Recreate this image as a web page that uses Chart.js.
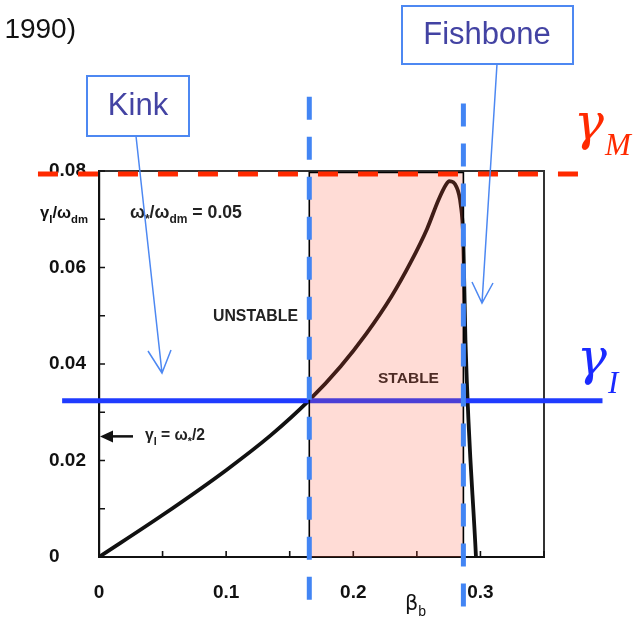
<!DOCTYPE html>
<html>
<head>
<meta charset="utf-8">
<script src="https://cdn.jsdelivr.net/npm/chart.js@4.4.1/dist/chart.umd.min.js"></script>
<style>
  html, body { margin: 0; padding: 0; background: #fff; overflow: hidden; }
  #wrap { position: relative; width: 643px; height: 622px; }
</style>
</head>
<body>
<div id="wrap"><canvas id="c" width="643" height="622"></canvas></div>
<script>
// Fishbone / kink growth rate versus hot-particle beta
const betaB      = [0, 0.05, 0.1, 0.135, 0.165, 0.19, 0.21, 0.23, 0.245, 0.258, 0.267, 0.273, 0.2755, 0.281, 0.2845, 0.2865, 0.2882, 0.2965];
const growthRate = [0, 0.0087, 0.018, 0.0252, 0.0324, 0.0395, 0.0462, 0.054, 0.061, 0.068, 0.074, 0.0772, 0.0779, 0.0768, 0.0730, 0.066, 0.045, 0];

// threshold levels and the stable window in beta
const gammaI = 0.0324;
const gammaM = 0.0794;
const stableBeta = [0.1654, 0.2866];
const stableTop = 0.0797;
const omegaStarRatio = 0.05;             // omega_* / omega_dm
const gammaIKink = omegaStarRatio / 2;   // gamma_I = omega_* / 2

// extents of the overlay guide lines (data units)
const guideXSpan = [-0.029, 0.396];
const mLineXSpan = [-0.048, 0.386];
const leftGuideYSpan = [0.0954, -0.011];
const rightGuideYSpan = [0.0940, -0.011];

// axis ticks
const xTickValues = [0, 0.1, 0.2, 0.3];
const xTickLabels = ['0', '0.1', '0.2', '0.3'];
const yTickValues = [0, 0.02, 0.04, 0.06, 0.08];
const yTickLabels = ['0', '0.02', '0.04', '0.06', '0.08'];

const curvePoints = betaB.map((b, i) => ({ x: b, y: growthRate[i] }));

function labelFor(values, labels, v) {
  for (let i = 0; i < values.length; i++) {
    if (Math.abs(values[i] - v) < 1e-6) return labels[i];
  }
  return '';
}

function fontFor(p, size) {
  const s = p.sub ? size * 0.68 : size;
  return [p.style || '', p.weight || 'bold', s.toFixed(2) + 'px', p.family || '"Liberation Sans"']
    .filter(Boolean).join(' ');
}
function richWidth(ctx, parts, size) {
  let w = 0;
  for (const p of parts) { ctx.font = fontFor(p, size); w += ctx.measureText(p.t).width; }
  return w;
}
// draws a run of text pieces (with subscripts) fitted between x0 and x1
function drawRich(ctx, parts, x0, x1, baseline, size, color) {
  size = size * (x1 - x0) / richWidth(ctx, parts, size);
  let x = x0;
  ctx.fillStyle = color;
  ctx.textAlign = 'left';
  ctx.textBaseline = 'alphabetic';
  for (const p of parts) {
    ctx.font = fontFor(p, size);
    ctx.fillText(p.t, x, baseline + (p.sub ? size * 0.3 : 0));
    x += ctx.measureText(p.t).width;
  }
}

// large italic gamma with a subscript
function drawGamma(ctx, sub, x, y, subX, subY, color) {
  ctx.save();
  ctx.fillStyle = color;
  ctx.textAlign = 'left';
  ctx.textBaseline = 'alphabetic';
  ctx.font = 'italic 50px "DejaVu Serif"';
  ctx.fillText('γ', x, y);
  ctx.font = 'italic 31px "Liberation Serif"';
  ctx.fillText(sub, subX, subY);
  ctx.restore();
}

const underlay = {
  id: 'underlay',
  beforeDatasetsDraw(chart) {
    const { ctx, chartArea: a, scales: { x, y } } = chart;
    ctx.save();
    // top and right frame
    ctx.strokeStyle = '#333';
    ctx.lineWidth = 2;
    ctx.beginPath();
    ctx.moveTo(a.left, a.top); ctx.lineTo(a.right, a.top); ctx.lineTo(a.right, a.bottom);
    ctx.stroke();
    // inward tick marks
    ctx.strokeStyle = '#111';
    ctx.lineWidth = 1.6;
    ctx.beginPath();
    for (const t of y.ticks) {
      const py = y.getPixelForValue(t.value);
      ctx.moveTo(a.left, py); ctx.lineTo(a.left + 6, py);
    }
    for (const t of x.ticks) {
      const px = x.getPixelForValue(t.value);
      ctx.moveTo(px, a.bottom); ctx.lineTo(px, a.bottom - 6);
    }
    ctx.stroke();

    // axis title at the top of the y axis
    drawRich(ctx, [{ t: 'γ' }, { t: 'I', sub: true }, { t: '/ω' }, { t: 'dm', sub: true }], 40, 88, 218, 18, '#111');
    drawRich(ctx, [{ t: 'ω' }, { t: '*', sub: true }, { t: '/ω' }, { t: 'dm', sub: true }, { t: ' = 0.05' }], 130, 242, 218, 14, '#222');
    drawRich(ctx, [{ t: 'UNSTABLE' }], 213, 298, 321, 15, '#222');
    drawRich(ctx, [{ t: 'STABLE' }], 378, 439, 383, 15, '#222');

    // gamma_I = omega_*/2 marker
    const ky = y.getPixelForValue(gammaIKink);
    ctx.strokeStyle = '#111';
    ctx.lineWidth = 2.5;
    ctx.beginPath();
    ctx.moveTo(a.left + 10, ky); ctx.lineTo(a.left + 34, ky);
    ctx.stroke();
    ctx.fillStyle = '#111';
    ctx.beginPath();
    ctx.moveTo(a.left + 1, ky); ctx.lineTo(a.left + 14, ky - 6); ctx.lineTo(a.left + 14, ky + 6);
    ctx.closePath(); ctx.fill();
    drawRich(ctx, [{ t: 'γ' }, { t: 'I', sub: true }, { t: ' = ω' }, { t: '*', sub: true }, { t: '/2' }], 145, 205, 440, 14, '#222');

    // x axis title
    drawRich(ctx, [{ t: 'β', weight: 'normal', family: '"DejaVu Sans"' }, { t: 'b', sub: true, weight: 'normal' }], 405, 426, 610, 20, '#111');
    ctx.restore();
  },
  afterDatasetsDraw(chart) {
    const { ctx } = chart;
    ctx.save();
    // source note
    ctx.fillStyle = '#111';
    ctx.font = '28px "Liberation Sans"';
    ctx.textAlign = 'right';
    ctx.textBaseline = 'alphabetic';
    ctx.fillText('1990)', 76, 38);

    // callout boxes
    const blue = '#4d88f2';
    ctx.strokeStyle = blue;
    ctx.lineWidth = 2;
    ctx.strokeRect(87, 76, 102, 60);
    ctx.strokeRect(402, 6, 171, 58);
    ctx.fillStyle = '#4343a3';
    ctx.font = '31px "Liberation Sans"';
    ctx.textAlign = 'center';
    ctx.textBaseline = 'middle';
    ctx.fillText('Kink', 138, 106);
    ctx.fillText('Fishbone', 487, 35);

    // callout arrows
    ctx.lineWidth = 1.5;
    ctx.beginPath();
    ctx.moveTo(136, 136); ctx.lineTo(162, 373);
    ctx.moveTo(148, 351); ctx.lineTo(162, 373); ctx.lineTo(171, 350);
    ctx.moveTo(497, 64); ctx.lineTo(482, 303);
    ctx.moveTo(472, 282); ctx.lineTo(482, 303); ctx.lineTo(493, 283);
    ctx.stroke();
    ctx.restore();

    // threshold labels
    drawGamma(ctx, 'M', 574, 139, 605, 155, '#ff2a00');
    drawGamma(ctx, 'I', 577, 374, 608, 393, '#1a2aff');
  }
};

const tickFont = { family: '"Liberation Sans"', size: 19, weight: 'bold' };

new Chart(document.getElementById('c').getContext('2d'), {
  type: 'scatter',
  data: {
    datasets: [
      { // gamma_M level
        data: [{ x: mLineXSpan[0], y: gammaM }, { x: mLineXSpan[1], y: gammaM }],
        showLine: true, borderColor: '#ff2a00', borderWidth: 5, borderDash: [20, 20],
        pointRadius: 0, clip: false, order: 0
      },
      { // lower edge of the stable window
        data: [{ x: stableBeta[0], y: leftGuideYSpan[0] }, { x: stableBeta[0], y: leftGuideYSpan[1] }],
        showLine: true, borderColor: '#4285f4', borderWidth: 5, borderDash: [23, 17],
        pointRadius: 0, clip: false, order: 1
      },
      { // upper edge of the stable window
        data: [{ x: stableBeta[1], y: rightGuideYSpan[0] }, { x: stableBeta[1], y: rightGuideYSpan[1] }],
        showLine: true, borderColor: '#4285f4', borderWidth: 5, borderDash: [23, 17],
        pointRadius: 0, clip: false, order: 1
      },
      { // stable window
        data: [
          { x: stableBeta[0], y: 0 }, { x: stableBeta[0], y: stableTop },
          { x: stableBeta[1], y: stableTop }, { x: stableBeta[1], y: 0 }
        ],
        showLine: true, fill: 'origin', backgroundColor: 'rgba(255, 80, 48, 0.2)',
        borderColor: '#000', borderWidth: 1.6, pointRadius: 0, tension: 0, order: 3
      },
      { // gamma_I level
        data: [{ x: guideXSpan[0], y: gammaI }, { x: guideXSpan[1], y: gammaI }],
        showLine: true, borderColor: '#1f3bff', borderWidth: 5,
        pointRadius: 0, clip: false, order: 4
      },
      { // growth rate
        data: curvePoints,
        showLine: true, borderColor: '#111', borderWidth: 3.8,
        cubicInterpolationMode: 'monotone', pointRadius: 0, order: 5
      }
    ]
  },
  options: {
    responsive: false,
    animation: false,
    events: [],
    layout: { padding: { left: 49, top: 171, right: 99, bottom: 0 } },
    plugins: { legend: { display: false }, tooltip: { enabled: false } },
    scales: {
      x: {
        type: 'linear', min: 0, max: 0.35,
        grid: { display: false, drawTicks: false },
        border: { display: true, color: '#111', width: 2 },
        ticks: {
          stepSize: 0.05, autoSkip: false, maxRotation: 0, padding: 24,
          color: '#111', font: tickFont,
          callback: v => labelFor(xTickValues, xTickLabels, v)
        },
        afterFit: s => { s.height = 65; }
      },
      y: {
        type: 'linear', min: 0, max: 0.08,
        grid: { display: false, drawTicks: false },
        border: { display: true, color: '#111', width: 2.2 },
        ticks: {
          stepSize: 0.01, autoSkip: false, crossAlign: 'far', padding: 4,
          color: '#111', font: tickFont,
          callback: v => labelFor(yTickValues, yTickLabels, v)
        },
        afterFit: s => { s.width = 50; }
      }
    }
  },
  plugins: [underlay]
});
</script>
</body>
</html>
